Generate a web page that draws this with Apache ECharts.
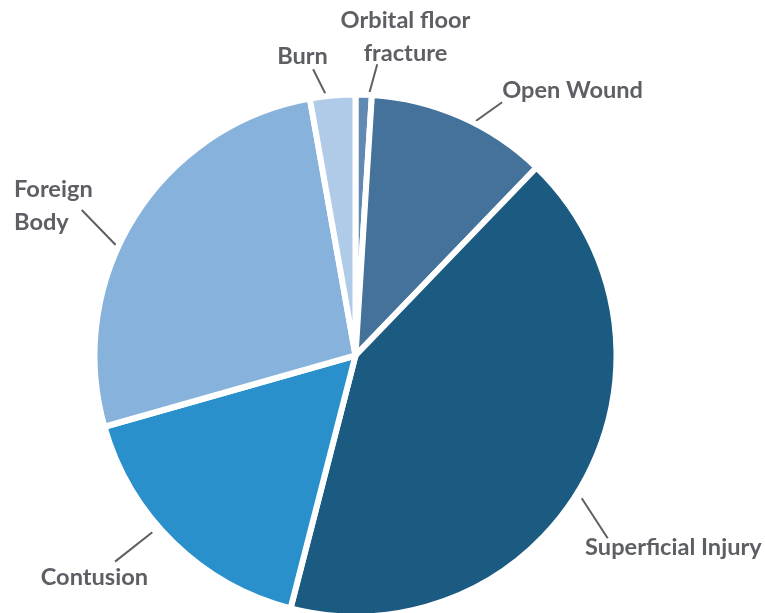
<!DOCTYPE html>
<html>
<head>
<meta charset="utf-8">
<script src="https://cdn.jsdelivr.net/npm/echarts@6/dist/echarts.min.js"></script>
<style>
  html, body { margin: 0; padding: 0; background: #fff; }
  #chart { width: 765px; height: 613px; }
</style>
</head>
<body>
<div id="chart"></div>
<script>
// data, clockwise from 12 o'clock
const categories = ["Orbital floor\nfracture", "Open Wound", "Superficial Injury", "Contusion", "Foreign\nBody", "Burn"];
const shares = [1.0, 11.2, 41.8, 16.6, 26.6, 2.8];
const sliceColors = ["#6189b1", "#44729a", "#1b5b81", "#2990cb", "#86b2dc", "#b0cbe8"];

// label placement: angle shift from slice middle (deg), line start radius,
// line vector, text offset from line end, text align
const labelAngleShift = [1.2, 3.4, 3.1, 4.7, -7.3, -1.5];
const labelStartR = [262.6, 263.6, 267.5, 269.3, 264, 263.2];
const labelLineVec = [[8, -29], [26.3, -18.7], [26, 40], [-37.3, 29.4], [-34, -35], [-12.4, -24.7]];
const labelTextOffset = [[28.2, -27], [0, -11.4], [-22.6, 9.6], [-74.3, 15.4], [-67.7, -4.4], [-10.6, -13]];
const labelAlign = ["center", "left", "left", "left", "left", "center"];

const CX = 355.5, CY = 355.5;
const total = shares.reduce((a, b) => a + b, 0);
const midAngles = [];
let acc = 0;
shares.forEach((v) => {
  midAngles.push(((acc + v / 2) / total) * 360);
  acc += v;
});

const chart = echarts.init(document.getElementById("chart"));

chart.setOption({
  animation: false,
  series: [
    {
      type: "pie",
      center: [CX, CY],
      radius: 261,
      startAngle: 90,
      clockwise: true,
      avoidLabelOverlap: false,
      itemStyle: { borderColor: "#fff", borderWidth: 6 },
      label: {
        show: true,
        position: "outside",
        color: "#5d5f64",
        fontFamily: "Lato",
        fontWeight: "bold",
        fontSize: 23.6,
        lineHeight: 33,
      },
      labelLine: {
        show: true,
        length: 20,
        length2: 0,
        lineStyle: { color: "#5d5f64", width: 2 },
      },
      labelLayout: function (params) {
        const i = params.dataIndex;
        const a = ((midAngles[i] + labelAngleShift[i]) * Math.PI) / 180;
        const x0 = CX + labelStartR[i] * Math.sin(a);
        const y0 = CY - labelStartR[i] * Math.cos(a);
        const x1 = x0 + labelLineVec[i][0];
        const y1 = y0 + labelLineVec[i][1];
        return {
          x: x1 + labelTextOffset[i][0],
          y: y1 + labelTextOffset[i][1],
          align: labelAlign[i],
          verticalAlign: "middle",
          labelLinePoints: [[x0, y0], [x1, y1], [x1, y1]],
        };
      },
      emphasis: { disabled: true },
      data: categories.map((name, i) => ({
        name: name,
        value: shares[i],
        itemStyle: { color: sliceColors[i] },
      })),
    },
  ],
});
</script>
</body>
</html>
